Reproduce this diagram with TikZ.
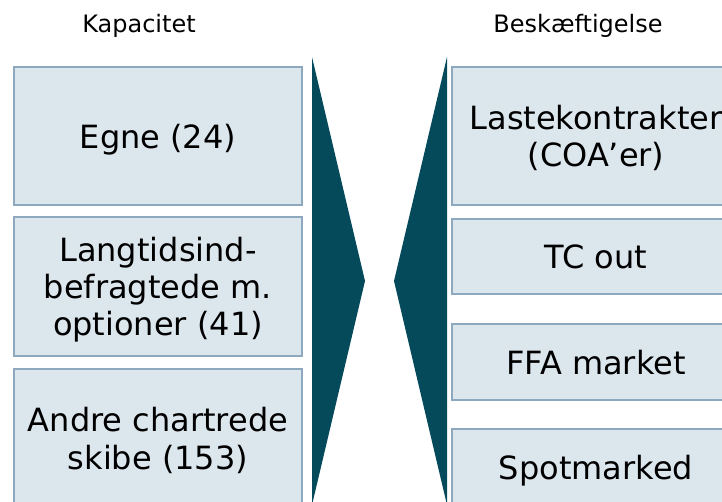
\documentclass[tikz,border=0pt]{standalone}
\usepackage{fontspec}
\setmainfont{DejaVu Sans}
\definecolor{boxfill}{HTML}{DCE6ED}
\definecolor{boxline}{HTML}{8EA9BE}
\definecolor{darkteal}{HTML}{044A5B}
\begin{document}
\begin{tikzpicture}[x=0.75pt,y=-0.75pt,
  box/.style={draw=boxline, fill=boxfill, line width=1.5pt, inner sep=0pt,
    align=center, text=black, font=\fontsize{24}{28}\selectfont,
    minimum width=216pt, text depth=0pt},
  tall/.style={minimum height=104pt},
  short/.style={minimum height=56.5pt},
  head/.style={font=\fontsize{18}{21}\selectfont, anchor=base, text=black},
  wedge/.style={fill=darkteal}]
\useasboundingbox (0,0) rectangle (722,502);
% headings
\node[head] (kap) at (139,33) {Kapacitet};
\node[head] (besk) at (578,33) {Beskæftigelse};
% left boxes
\node[box,tall] (egne) at (158,136) {Egne (24)};
\node[box,tall] (lang) at (158,286.5) {Langtidsind-\\befragtede m.\\optioner (41)};
\node[box,tall] (andre) at (158,438.5) {Andre chartrede\\skibe (153)};
% right boxes
\node[box,tall] (laste) at (596,136) {Lastekontrakter\\(COA’er)};
\node[box,short] (tc) at (596,256.5) {TC out};
\node[box,short] (ffa) at (596,362) {FFA market};
\node[box,short] (spot) at (596,467) {Spotmarked};
% wedges
\fill[wedge] (312,57) -- (365,281) -- (312,505) -- cycle;
\fill[wedge] (447,57) -- (394,281) -- (447,505) -- cycle;
\end{tikzpicture}
\end{document}
